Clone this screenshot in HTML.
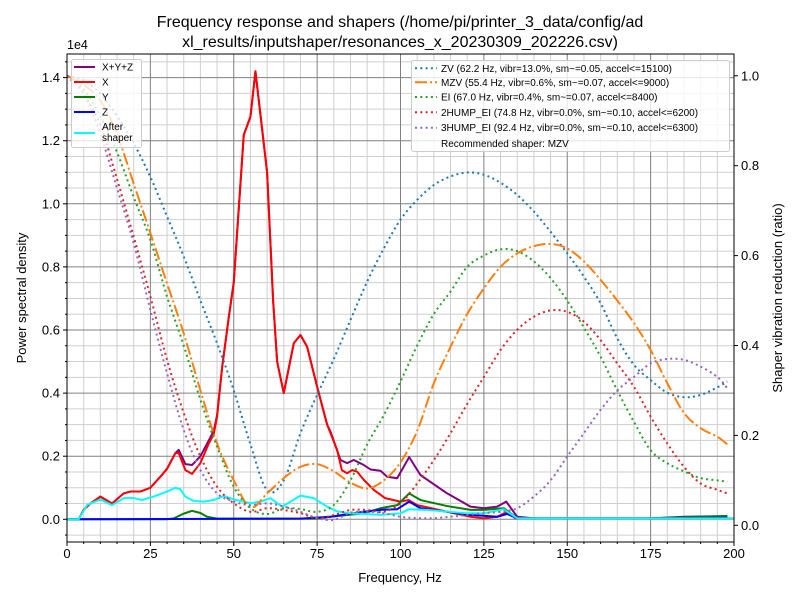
<!DOCTYPE html>
<html><head><meta charset="utf-8"><style>
html,body{margin:0;padding:0;background:#fff;}
svg{display:block;font-family:"Liberation Sans","DejaVu Sans",sans-serif;}
</style></head><body>
<svg id="chart" width="800" height="600" viewBox="0 0 800 600" xmlns="http://www.w3.org/2000/svg">
<rect width="800" height="600" fill="#fff"/>
<text x="400" y="27" font-size="16" text-anchor="middle">Frequency response and shapers (/home/pi/printer_3_data/config/ad</text>
<text x="400" y="47" font-size="16" text-anchor="middle">xl_results/inputshaper/resonances_x_20230309_202226.csv)</text>
<g id="grid"></g>
<g id="series"></g>
<g id="axes"></g>
<text x="67" y="49" font-size="12.5">1e4</text>
<text x="400" y="582" font-size="13" text-anchor="middle">Frequency, Hz</text>
<text x="0" y="0" font-size="13" text-anchor="middle" transform="translate(26,298) rotate(-90)">Power spectral density</text>
<text x="0" y="0" font-size="13" text-anchor="middle" transform="translate(782,298) rotate(-90)">Shaper vibration reduction (ratio)</text>
<g id="legend-left"></g>
<g id="legend-right"></g>
</svg>
<script>
// ---- data ----
const xTicks = [0,25,50,75,100,125,150,175,200];
const yTicks = [0,0.2,0.4,0.6,0.8,1.0,1.2,1.4];
const yTickLabels = ["0.0","0.2","0.4","0.6","0.8","1.0","1.2","1.4"];
const rTicks = [0,0.2,0.4,0.6,0.8,1.0];
const rTickLabels = ["0.0","0.2","0.4","0.6","0.8","1.0"];

const sumFreqs = [0,3.5,5,7,10,13.5,17,19,22,25,28,30,32.5,33.5,35.5,37.5,40,42.5,44,45,46.5,48.5,50,53,55,56.5,60,61.8,63,65,68,70,72,75,78,79,82,84,86,89,91,94,96,99,102.6,106,114,121,125,129,131.7,135,140,175,185,198];
const sumVals  = [0,0,0.03,0.05,0.072,0.05,0.082,0.088,0.088,0.10,0.135,0.16,0.21,0.22,0.175,0.172,0.20,0.25,0.28,0.33,0.48,0.64,0.75,1.218,1.276,1.42,1.10,0.695,0.50,0.40,0.558,0.584,0.547,0.42,0.30,0.278,0.188,0.178,0.188,0.172,0.158,0.154,0.135,0.13,0.197,0.14,0.082,0.04,0.035,0.04,0.056,0.008,0.003,0.003,0.008,0.01];

const xFreqs = [0,3.5,5,7,10,13.5,17,19,22,25,28,30,32.5,33.5,35.5,37.5,40,42.5,44,45,46.5,48.5,50,53,55,56.5,60,61.8,63,65,68,70,72,75,78,81,82.4,84,85.5,87,89,92,95.4,99.9,102.4,105,114,121,125,129,132,134.5,140,200];
const xVals  = [0,0,0.03,0.05,0.072,0.05,0.082,0.088,0.088,0.10,0.135,0.16,0.21,0.21,0.156,0.144,0.178,0.24,0.27,0.325,0.48,0.64,0.75,1.218,1.276,1.42,1.10,0.695,0.50,0.40,0.558,0.584,0.547,0.42,0.30,0.22,0.156,0.146,0.156,0.151,0.125,0.093,0.067,0.056,0.061,0.045,0.024,0.008,0.003,0.008,0.024,0.003,0.003,0.003];

const yFreqs = [0,30,32,35,37.5,40,42,45,75,79,89,94,99,102.6,106,114,121,125,131,135,175,190,198];
const yVals  = [0,0,0.003,0.018,0.027,0.02,0.008,0.002,0.002,0.008,0.019,0.035,0.045,0.082,0.061,0.042,0.03,0.03,0.035,0.003,0.003,0.008,0.01];

const zFreqs = [0,70,79,89,94,99,102.6,106,114,121,129,132,135,175,198];
const zVals  = [0,0.002,0.008,0.024,0.03,0.032,0.056,0.035,0.024,0.014,0.008,0.017,0.003,0.003,0.005];

const afterFreqs = [0,3.5,6,10,13.5,17,20,22.5,26,30,32.5,34,35.5,38,41,44,47,50,55,58,61,64.5,70,74,78,81,85,94,100,102.6,108,120,125,130.9,135,200];
const afterVals  = [0,0,0.045,0.063,0.045,0.067,0.067,0.061,0.072,0.088,0.10,0.095,0.072,0.058,0.056,0.061,0.074,0.063,0.051,0.056,0.067,0.04,0.075,0.067,0.04,0.025,0.019,0.014,0.019,0.032,0.03,0.019,0.019,0.032,0.003,0.003];

const shaperFreqs = [0,5,10,15,20,25,30,35,40,45,50,55,60,65,70,75,80,85,90,95,100,105,110,115,120,125,130,135,140,145,150,155,160,165,170,175,180,185,190,195,198];
const zvVals   = [1.0,0.99,0.96,0.91,0.85,0.775,0.687,0.598,0.50,0.405,0.30,0.18,0.078,0.10,0.205,0.29,0.37,0.457,0.542,0.616,0.68,0.724,0.757,0.776,0.785,0.78,0.762,0.735,0.698,0.653,0.605,0.553,0.494,0.416,0.357,0.323,0.295,0.285,0.29,0.307,0.32];
const mzvVals  = [1.0,0.98,0.945,0.87,0.76,0.65,0.538,0.427,0.30,0.182,0.10,0.04,0.071,0.105,0.13,0.136,0.12,0.095,0.082,0.10,0.14,0.21,0.316,0.397,0.47,0.527,0.575,0.605,0.621,0.626,0.616,0.587,0.546,0.50,0.45,0.39,0.316,0.25,0.216,0.197,0.18];
const eiVals   = [1.0,0.97,0.91,0.83,0.73,0.635,0.509,0.40,0.279,0.175,0.086,0.038,0.025,0.038,0.036,0.03,0.045,0.10,0.18,0.245,0.32,0.40,0.47,0.52,0.575,0.60,0.614,0.61,0.587,0.55,0.50,0.44,0.375,0.30,0.23,0.167,0.138,0.12,0.105,0.10,0.097];
const hump2Vals= [1.0,0.96,0.89,0.77,0.642,0.509,0.368,0.25,0.153,0.086,0.049,0.03,0.038,0.034,0.027,0.016,0.023,0.034,0.034,0.03,0.049,0.093,0.145,0.205,0.27,0.33,0.39,0.435,0.464,0.478,0.475,0.453,0.412,0.36,0.308,0.242,0.182,0.13,0.093,0.079,0.071];
const hump3Vals= [1.0,0.96,0.87,0.75,0.627,0.479,0.338,0.212,0.123,0.071,0.053,0.045,0.049,0.042,0.03,0.016,0.012,0.028,0.03,0.027,0.019,0.016,0.016,0.019,0.023,0.027,0.03,0.038,0.064,0.10,0.153,0.205,0.257,0.30,0.33,0.36,0.37,0.368,0.353,0.33,0.305];

// ---- axes ----
const L=67,R=734,T=54,B=542;
function xs(f){return L+(f-0)*(R-L)/200;}
function ys(v){return 519.3-315.5*v;}      // PSD (x1e4)
function yr(r){return 525.3-449.5*r;}      // ratio
const NS="http://www.w3.org/2000/svg";
function mk(tag,attrs,parent){const e=document.createElementNS(NS,tag);for(const k in attrs)e.setAttribute(k,attrs[k]);parent.appendChild(e);return e;}
const grid=document.getElementById('grid'),ser=document.getElementById('series'),axes=document.getElementById('axes');

for(let f=0;f<=200;f+=5){
  if(f%25===0)continue;
  const l=mk('line',{x1:xs(f),x2:xs(f),y1:T,y2:B,stroke:'#cfcfcf','stroke-width':1},grid);
  
  
}
for(let i=-1;i<=29;i++){
  const v=i*0.05; if(i%4===0)continue;
  const y=ys(v); if(y<T||y>B)continue;
  const l=mk('line',{x1:L,x2:R,y1:y,y2:y,stroke:'#cfcfcf','stroke-width':1},grid);
  
  
}
xTicks.forEach(f=>{
  const l=mk('line',{x1:xs(f),x2:xs(f),y1:T,y2:B,stroke:'#808080','stroke-width':1},grid);
  
  
});
yTicks.forEach(v=>{
  const l=mk('line',{x1:L,x2:R,y1:ys(v),y2:ys(v),stroke:'#808080','stroke-width':1},grid);
  
  
});

function smooth(pts){
  let d='M'+pts[0][0].toFixed(2)+','+pts[0][1].toFixed(2);
  for(let i=0;i<pts.length-1;i++){
    const p0=pts[Math.max(0,i-1)],p1=pts[i],p2=pts[i+1],p3=pts[Math.min(pts.length-1,i+2)];
    const c1=[p1[0]+(p2[0]-p0[0])/6,p1[1]+(p2[1]-p0[1])/6];
    const c2=[p2[0]-(p3[0]-p1[0])/6,p2[1]-(p3[1]-p1[1])/6];
    d+='C'+c1[0].toFixed(2)+','+c1[1].toFixed(2)+' '+c2[0].toFixed(2)+','+c2[1].toFixed(2)+' '+p2[0].toFixed(2)+','+p2[1].toFixed(2);
  }
  return d;
}
const clip=mk('clipPath',{id:'plotclip'},mk('defs',{},document.getElementById('chart')));
mk('rect',{x:L,y:T,width:R-L,height:B-T},clip);
ser.setAttribute('clip-path','url(#plotclip)');

function psdLine(fr,vals,color,name){
  const pts=fr.map((f,i)=>xs(f).toFixed(2)+','+ys(vals[i]).toFixed(2)).join(' ');
  const p=mk('polyline',{points:pts,fill:'none',stroke:color,'stroke-width':2,'stroke-linejoin':'round'},ser);
  
  
}
function shaperLine(vals,color,dash,name){
  const pts=shaperFreqs.map((f,i)=>[xs(f),yr(vals[i])]);
  const p=mk('path',{d:smooth(pts),fill:'none',stroke:color,'stroke-width':2,'stroke-dasharray':dash},ser);
  
  
}
psdLine(sumFreqs,sumVals,'#800080','psd-line-xyz');
psdLine(xFreqs,xVals,'#ff0000','psd-line-x');
psdLine(yFreqs,yVals,'#008000','psd-line-y');
psdLine(zFreqs,zVals,'#0000ff','psd-line-z');
psdLine(afterFreqs,afterVals,'#00ffff','psd-line-after-shaper');
shaperLine(zvVals,'#1f77b4','2 3.3','shaper-line-zv');
shaperLine(mzvVals,'#ff7f0e','12 3 2 3','shaper-line-mzv');
shaperLine(eiVals,'#2ca02c','2 3.3','shaper-line-ei');
shaperLine(hump2Vals,'#d62728','2 3.3','shaper-line-2hump-ei');
shaperLine(hump3Vals,'#9467bd','2 3.3','shaper-line-3hump-ei');

const frame=mk('rect',{x:L,y:T,width:R-L,height:B-T,fill:'none',stroke:'#000','stroke-width':1},axes);


xTicks.forEach(f=>{
  mk('line',{x1:xs(f),x2:xs(f),y1:B,y2:B+4,stroke:'#000'},axes);
  const t=mk('text',{x:xs(f),y:B+16,'font-size':13,'text-anchor':'middle'},axes);
  t.textContent=String(f);
  
  
});
for(let f=0;f<=200;f+=5){ if(f%25) mk('line',{x1:xs(f),x2:xs(f),y1:B,y2:B+2,stroke:'#000'},axes); }
yTicks.forEach((v,i)=>{
  mk('line',{x1:L-4,x2:L,y1:ys(v),y2:ys(v),stroke:'#000'},axes);
  const t=mk('text',{x:L-7,y:ys(v)+4.5,'font-size':13,'text-anchor':'end'},axes);
  t.textContent=yTickLabels[i];
  
  
});
for(let i=-1;i<=29;i++){ if(i%4===0)continue; const y=ys(i*0.05); if(y<T||y>B)continue; mk('line',{x1:L-2,x2:L,y1:y,y2:y,stroke:'#000'},axes); }
rTicks.forEach((r,i)=>{
  mk('line',{x1:R,x2:R+4,y1:yr(r),y2:yr(r),stroke:'#000'},axes);
  const t=mk('text',{x:R+7,y:yr(r)+4.5,'font-size':13},axes);
  t.textContent=rTickLabels[i];
  
  
});

const lg=document.getElementById('legend-left');
mk('rect',{x:71.5,y:59.5,width:70,height:88,rx:2,fill:'#fff','fill-opacity':0.8,stroke:'#ccc'},lg);
const leftItems=[['X+Y+Z','#800080',67],['X','#ff0000',82],['Y','#008000',97],['Z','#0000ff',112],['After','#00ffff',133]];
leftItems.forEach(it=>{
  const g=mk('g',{},lg);
  
  
  mk('line',{x1:74,x2:95,y1:it[2],y2:it[2],stroke:it[1],'stroke-width':2},g);
  if(it[0]==='After'){
    const t1=mk('text',{x:102,y:130,'font-size':10},g); t1.textContent='After';
    const t2=mk('text',{x:102,y:141,'font-size':10},g); t2.textContent='shaper';
  } else {
    const t=mk('text',{x:102,y:it[2]+3.5,'font-size':10},g); t.textContent=it[0];
  }
});
const lr=document.getElementById('legend-right');
mk('rect',{x:411.5,y:60.5,width:318,height:91,rx:2,fill:'#fff','fill-opacity':0.8,stroke:'#ccc'},lr);
const rightItems=[
 ['ZV (62.2 Hz, vibr=13.0%, sm~=0.05, accel<=15100)','#1f77b4','2 3.3',68.3],
 ['MZV (55.4 Hz, vibr=0.6%, sm~=0.07, accel<=9000)','#ff7f0e','12 3 2 3',82.3],
 ['EI (67.0 Hz, vibr=0.4%, sm~=0.07, accel<=8400)','#2ca02c','2 3.3',97],
 ['2HUMP_EI (74.8 Hz, vibr=0.0%, sm~=0.10, accel<=6200)','#d62728','2 3.3',112.3],
 ['3HUMP_EI (92.4 Hz, vibr=0.0%, sm~=0.10, accel<=6300)','#9467bd','2 3.3',127.7]
];
rightItems.forEach(it=>{
  const g=mk('g',{},lr);
  
  
  mk('line',{x1:415,x2:437,y1:it[3],y2:it[3],stroke:it[1],'stroke-width':2,'stroke-dasharray':it[2]},g);
  const t=mk('text',{x:441,y:it[3]+3.5,'font-size':10},g); t.textContent=it[0];
});
const rec=mk('text',{x:441,y:146.8,'font-size':10},lr);
rec.textContent='Recommended shaper: MZV';


</script>
</body></html>
